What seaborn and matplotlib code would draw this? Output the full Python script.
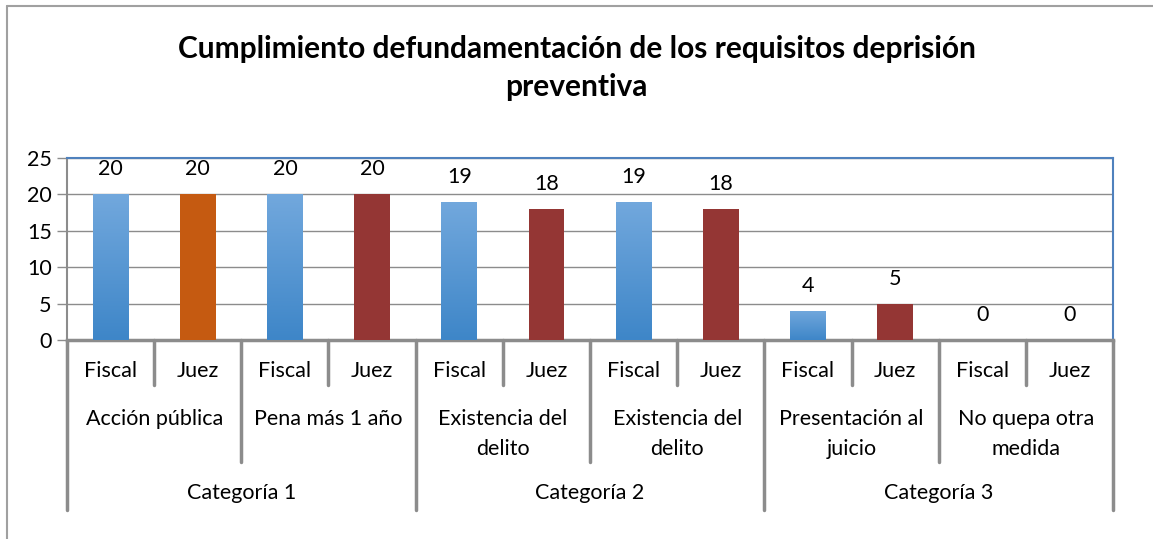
import numpy as np
import matplotlib.pyplot as plt
import matplotlib.transforms as mtransforms
from matplotlib.colors import LinearSegmentedColormap
from matplotlib.lines import Line2D
import pandas as pd
import seaborn as sns

# data
roles = ['Fiscal', 'Juez'] * 6
requisitos = ['Acción pública', 'Pena más 1 año', 'Existencia del\ndelito',
              'Existencia del\ndelito', 'Presentación al\njuicio', 'No quepa otra\nmedida']
categorias = ['Categoría 1', 'Categoría 2', 'Categoría 3']
valores = [20, 20, 20, 20, 19, 18, 19, 18, 4, 5, 0, 0]
colores = ['#5B9BD5', '#C55A11', '#5B9BD5', '#943634', '#5B9BD5', '#943634',
           '#5B9BD5', '#943634', '#5B9BD5', '#943634', '#5B9BD5', '#943634']

sns.set_theme(style='white')
plt.rcParams['font.family'] = ['Lato', 'DejaVu Sans']
plt.rcParams['text.color'] = 'black'

df = pd.DataFrame({'pos': [str(i) for i in range(len(valores))],
                   'valor': valores, 'rol': roles})

fig = plt.figure(figsize=(11.53, 5.39), dpi=100)
ax = fig.add_axes([67 / 1153, 1 - 340 / 539, (1113 - 67) / 1153, (340 - 158) / 539])

sns.barplot(data=df, x='pos', y='valor', hue='pos', palette=colores,
            legend=False, width=0.41, saturation=1, linewidth=0, ax=ax, zorder=3)

# blue gradient on Fiscal bars
cmap = LinearSegmentedColormap.from_list('azul', ['#3E86C8', '#72A8DD'])
grad = np.linspace(0, 1, 256).reshape(-1, 1)
for patch, rol in zip(ax.patches, roles):
    if rol != 'Fiscal' or patch.get_height() == 0:
        continue
    x0, y0 = patch.get_x(), patch.get_y()
    w, h = patch.get_width(), patch.get_height()
    im = ax.imshow(grad, cmap=cmap, aspect='auto', origin='lower',
                   extent=[x0, x0 + w, y0, y0 + h], zorder=4)
    im.set_clip_path(patch)

ax.set_xlim(-0.5, len(valores) - 0.5)
ax.set_ylim(0, 25)
ax.set_yticks([0, 5, 10, 15, 20, 25])
ax.set_xticks([])
ax.set_xlabel('')
ax.set_ylabel('')
ax.yaxis.grid(True, color='#8C8C8C', linewidth=1)
ax.set_axisbelow(True)
ax.tick_params(axis='y', length=7, width=1, color='#8C8C8C', labelsize=15.5,
               left=True, pad=4, labelcolor='black')

for side in ['top', 'right']:
    ax.spines[side].set_color('#4F81BD')
    ax.spines[side].set_linewidth(1.5)
ax.spines['left'].set_color('#8C8C8C')
ax.spines['left'].set_linewidth(1.5)
ax.spines['bottom'].set_color('#8C8C8C')
ax.spines['bottom'].set_linewidth(2.5)

# value labels
for patch, v in zip(ax.patches, valores):
    ax.annotate(str(v), (patch.get_x() + patch.get_width() / 2, patch.get_height()),
                xytext=(0, 18), textcoords='offset points', ha='center', va='center',
                fontsize=15.5, color='black')

# multi-level category axis
trans = mtransforms.blended_transform_factory(ax.transData, ax.transAxes)
ah = (340 - 158)
lvl1 = -31 / ah
lvl2 = -69 / ah
lvl3 = -153 / ah
cut1 = -45 / ah
cut2 = -122 / ah
cut3 = -170 / ah

for i, r in enumerate(roles):
    ax.text(i, lvl1, r, transform=trans, ha='center', va='center', fontsize=15.5)
for j, req in enumerate(requisitos):
    ax.text(2 * j + 0.5, lvl2, req, transform=trans, ha='center', va='top',
            fontsize=15.5, linespacing=1.6)
for k, cat in enumerate(categorias):
    ax.text(4 * k + 1.5, lvl3, cat, transform=trans, ha='center', va='center', fontsize=15.5)

for b in range(len(valores) + 1):
    if b % 4 == 0:
        depth = cut3
    elif b % 2 == 0:
        depth = cut2
    else:
        depth = cut1
    ax.add_line(Line2D([b - 0.5, b - 0.5], [0, depth], transform=trans,
                       color='#8C8C8C', linewidth=2.5, clip_on=False))

fig.suptitle('Cumplimiento defundamentación de los requisitos deprisión\npreventiva',
             y=1 - 68 / 539, va='center', fontsize=21.5, fontweight='bold',
             linespacing=1.4, color='black')

# chart frame (top and left edges)
fig.add_artist(Line2D([7 / 1153, 1], [1 - 6 / 539, 1 - 6 / 539], transform=fig.transFigure,
                      color='#A0A0A0', linewidth=1.5))
fig.add_artist(Line2D([7 / 1153, 7 / 1153], [0, 1 - 6 / 539], transform=fig.transFigure,
                      color='#A0A0A0', linewidth=1.5))

fig.savefig('out.png', dpi=100, facecolor='white')
